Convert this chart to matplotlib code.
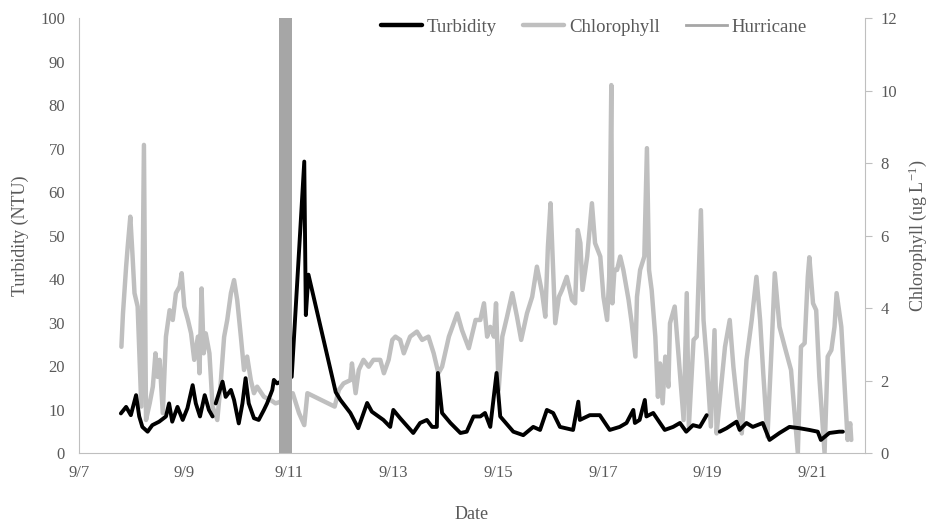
import matplotlib
matplotlib.use("Agg")
import matplotlib.pyplot as plt
from matplotlib.lines import Line2D
import numpy as np

nan = np.nan

# time in day-of-month (September)
turb_day = [7.80, 7.90, 7.99, 8.09, 8.15, 8.21, 8.31, 8.40, 8.53, 8.66, 8.72, 8.78, 8.88, 8.98,
            9.07, 9.17, 9.23, 9.31, 9.40, 9.48, 9.55, 9.58, 9.61, 9.74, 9.80, 9.90, 9.96,
            10.05, 10.12, 10.18, 10.24, 10.34, 10.43, 10.53, 10.59, 10.69, 10.72, 10.78,
            11.06, 11.30, 11.33, 11.38, 11.90, 11.99, 12.18, 12.33, 12.50, 12.59, 12.81,
            12.94, 13.00, 13.13, 13.38, 13.51, 13.64, 13.74, 13.83, 13.85, 13.93, 14.09,
            14.28, 14.40, 14.53, 14.66, 14.75, 14.85, 14.91, 14.97, 15.04, 15.29, 15.48,
            15.67, 15.80, 15.93, 16.05, 16.18, 16.43, 16.53, 16.56, 16.75, 16.94, 17.13,
            17.32, 17.45, 17.58, 17.61, 17.70, 17.80, 17.83, 17.96, 18.05, 18.18, 18.34,
            18.47, 18.59, 18.72, 18.85, 18.98, 19.10, 19.23, 19.36, 19.55, 19.61, 19.74,
            19.86, 20.05, 20.18, 20.37, 20.56, 20.75, 20.94, 21.10, 21.16, 21.32, 21.51, 21.58]
turbidity = [9.1, 10.6, 8.7, 13.3, 8.4, 6.0, 4.9, 6.4, 7.2, 8.4, 11.4, 7.2, 10.6, 7.6,
             10.3, 15.6, 11.4, 8.4, 13.3, 9.9, 8.4, nan, 11.4, 16.4, 12.9, 14.5, 12.2,
             6.8, 11.4, 17.2, 11.4, 8.0, 7.6, 9.9, 11.4, 14.5, 16.8, 16.0,
             17.5, 67.0, 31.7, 41.0, 14.0, 12.2, 9.2, 5.7, 11.5, 9.5, 7.6,
             6.0, 9.9, 8.0, 4.6, 6.9, 7.6, 6.0, 6.0, 18.4, 9.2, 6.9,
             4.6, 4.9, 8.4, 8.4, 9.2, 6.0, 12.2, 18.4, 8.4, 4.9, 4.1,
             6.0, 5.3, 9.9, 9.2, 6.0, 5.3, 11.8, 7.6, 8.7, 8.7, 5.3,
             6.0, 6.9, 9.9, 6.9, 7.6, 12.2, 8.4, 9.2, 7.6, 5.3, 6.0,
             6.9, 4.9, 6.4, 6.0, 8.7, nan, 4.9, 5.7, 7.2, 5.3, 6.9,
             6.0, 6.9, 3.0, 4.6, 6.0, 5.7, 5.3, 4.9, 3.0, 4.6, 4.9, 4.9]

chl_day = [7.81, 7.84, 7.90, 7.93, 7.98, 8.02, 8.06, 8.12, 8.19, 8.24, 8.28, 8.35, 8.41, 8.46,
           8.50, 8.54, 8.60, 8.66, 8.73, 8.79, 8.85, 8.92, 8.96, 9.01, 9.08, 9.14, 9.20,
           9.27, 9.30, 9.34, 9.38, 9.42, 9.49, 9.55, 9.64, 9.70, 9.77, 9.83, 9.90, 9.96,
           10.02, 10.09, 10.15, 10.21, 10.28, 10.34, 10.40, 10.53, 10.66, 10.75, 10.82,
           11.08, 11.20, 11.30, 11.36, 11.88, 11.96, 12.05, 12.18, 12.21, 12.28, 12.34,
           12.43, 12.53, 12.62, 12.75, 12.82, 12.91, 12.98, 13.04, 13.13, 13.20, 13.32,
           13.45, 13.55, 13.67, 13.77, 13.86, 13.93, 14.06, 14.22, 14.31, 14.44, 14.57,
           14.66, 14.73, 14.79, 14.85, 14.92, 14.96, 15.01, 15.08, 15.17, 15.27, 15.36,
           15.44, 15.55, 15.65, 15.74, 15.84, 15.90, 15.95, 16.00, 16.03, 16.09, 16.16,
           16.22, 16.31, 16.41, 16.47, 16.52, 16.57, 16.61, 16.70, 16.79, 16.85, 16.95,
           17.01, 17.08, 17.12, 17.16, 17.18, 17.22, 17.27, 17.33, 17.39, 17.49, 17.55,
           17.62, 17.65, 17.71, 17.79, 17.84, 17.88, 17.93, 18.00, 18.05, 18.09, 18.14,
           18.19, 18.25, 18.28, 18.37, 18.41, 18.47, 18.54, 18.60, 18.64, 18.73, 18.79,
           18.87, 18.92, 18.98, 19.06, 19.13, 19.17, 19.23, 19.33, 19.42, 19.49, 19.57,
           19.65, 19.74, 19.84, 19.93, 20.00, 20.06, 20.14, 20.22, 20.28, 20.37, 20.47,
           20.59, 20.72, 20.78, 20.85, 20.91, 20.94, 21.01, 21.07, 21.13, 21.23, 21.29,
           21.36, 21.42, 21.46, 21.55, 21.61, 21.67, 21.72, 21.74]
chlorophyll = [2.93, 3.85, 5.14, 5.69, 6.52, 5.51, 4.41, 4.04, 1.28, 8.50, 0.91, 1.37, 1.83, 2.75,
               2.10, 2.57, 1.10, 3.21, 3.94, 3.67, 4.41, 4.59, 4.96, 4.04, 3.67, 3.30, 2.57,
               3.21, 2.20, 4.54, 2.75, 3.30, 2.75, 1.28, 0.91, 1.83, 3.20, 3.67, 4.41, 4.77,
               4.22, 3.21, 2.29, 2.66, 2.01, 1.65, 1.83, 1.55, 1.46, 1.37, 1.40,
               1.65, 1.10, 0.77, 1.65, 1.28, 1.74, 1.92, 2.01, 2.47, 1.65, 2.29,
               2.57, 2.38, 2.57, 2.57, 2.20, 2.57, 3.12, 3.21, 3.12, 2.75, 3.21,
               3.35, 3.12, 3.21, 2.75, 2.20, 2.38, 3.21, 3.85, 3.39, 2.89, 3.67,
               3.67, 4.13, 3.21, 3.48, 3.21, 4.13, 1.74, 3.21, 3.76, 4.41, 3.76,
               3.12, 3.85, 4.31, 5.14, 4.41, 3.76, 5.69, 6.89, 5.79, 3.58, 4.31,
               4.50, 4.86, 4.22, 4.13, 6.15, 5.79, 4.50, 5.42, 6.89, 5.79, 5.42,
               4.31, 3.67, 4.86, 10.15, 4.13, 5.05, 5.05, 5.42, 5.05, 4.22, 3.58,
               2.66, 4.31, 5.05, 5.42, 8.41, 5.05, 4.50, 3.21, 1.55, 2.47, 1.37,
               2.66, 1.83, 3.58, 4.04, 3.30, 2.20, 0.91, 4.41, 0.73, 3.12, 3.21,
               6.70, 3.67, 2.57, 0.73, 3.39, 0.54, 1.46, 2.93, 3.67, 2.38, 1.28,
               0.54, 2.57, 3.67, 4.86, 3.67, 2.20, 0.45, 2.93, 4.96, 3.48, 2.93,
               2.29, 0.00, 2.93, 3.03, 4.86, 5.40, 4.13, 3.94, 2.11, 0.00, 2.66,
               2.84, 3.48, 4.41, 3.48, 1.92, 0.36, 0.82, 0.36]

hurricane_start = 10.82
hurricane_end = 11.06

date_ticks = [7, 9, 11, 13, 15, 17, 19, 21]
date_labels = [f"9/{d}" for d in date_ticks]

plt.rcParams['font.family'] = ['Liberation Serif', 'DejaVu Serif']
plt.rcParams['mathtext.fontset'] = 'custom'
plt.rcParams['mathtext.rm'] = 'Liberation Serif'

text_color = '#595959'
spine_color = '#bfbfbf'

fig = plt.figure(figsize=(9.29, 5.24), dpi=100)
ax = fig.add_axes([0.085, 0.1355, 0.846, 0.8301])
ax2 = ax.twinx()

# turbidity drawn above chlorophyll
ax.set_zorder(ax2.get_zorder() + 1)
ax.patch.set_visible(False)

ax.plot(turb_day, turbidity, color='black', lw=2.8, solid_joinstyle='round',
        solid_capstyle='round', zorder=3)
ax2.plot(chl_day, chlorophyll, color='#bfbfbf', lw=3.2, solid_joinstyle='round',
         solid_capstyle='round')
ax.axvspan(hurricane_start, hurricane_end, color='#a6a6a6', lw=0, zorder=5)

ax.set_xlim(7, 22)
ax.set_ylim(0, 100)
ax2.set_ylim(0, 12)
ax.set_yticks(np.arange(0, 101, 10))
ax2.set_yticks(np.arange(0, 13, 2))
ax.set_xticks(date_ticks)
ax.set_xticklabels(date_labels)

for a in (ax, ax2):
    for s in a.spines.values():
        s.set_visible(False)
ax.spines['left'].set_visible(True)
ax.spines['bottom'].set_visible(True)
ax.spines['left'].set_color(spine_color)
ax.spines['bottom'].set_color(spine_color)
ax2.spines['right'].set_visible(True)
ax2.spines['right'].set_color(spine_color)

ax.tick_params(axis='both', length=0, labelsize=12, colors=text_color)
ax.tick_params(axis='y', pad=10)
ax.tick_params(axis='x', pad=9)
ax2.tick_params(axis='y', length=5, color=spine_color, labelsize=12,
                labelcolor=text_color, pad=6)

ax.set_xlabel('Date', fontsize=13, color=text_color, labelpad=18)
ax.set_ylabel('Turbidity (NTU)', fontsize=13, color=text_color, labelpad=8)
ax2.set_ylabel('Chlorophyll (ug L$\\mathregular{^{-1}}$)', fontsize=13,
               color=text_color, labelpad=7)

handles = [
    Line2D([], [], color='black', lw=3.2, solid_capstyle='round'),
    Line2D([], [], color='#bfbfbf', lw=3.2, solid_capstyle='round'),
    Line2D([], [], color='#a6a6a6', lw=2.0),
]
ax.legend(handles, ['Turbidity', 'Chlorophyll', 'Hurricane'], loc='center',
          bbox_to_anchor=(0.655, 0.979), ncol=3, frameon=False, fontsize=13.5,
          handlelength=2.2, handletextpad=0.25, columnspacing=1.4,
          labelcolor=text_color)

fig.savefig('out.png', dpi=100)
